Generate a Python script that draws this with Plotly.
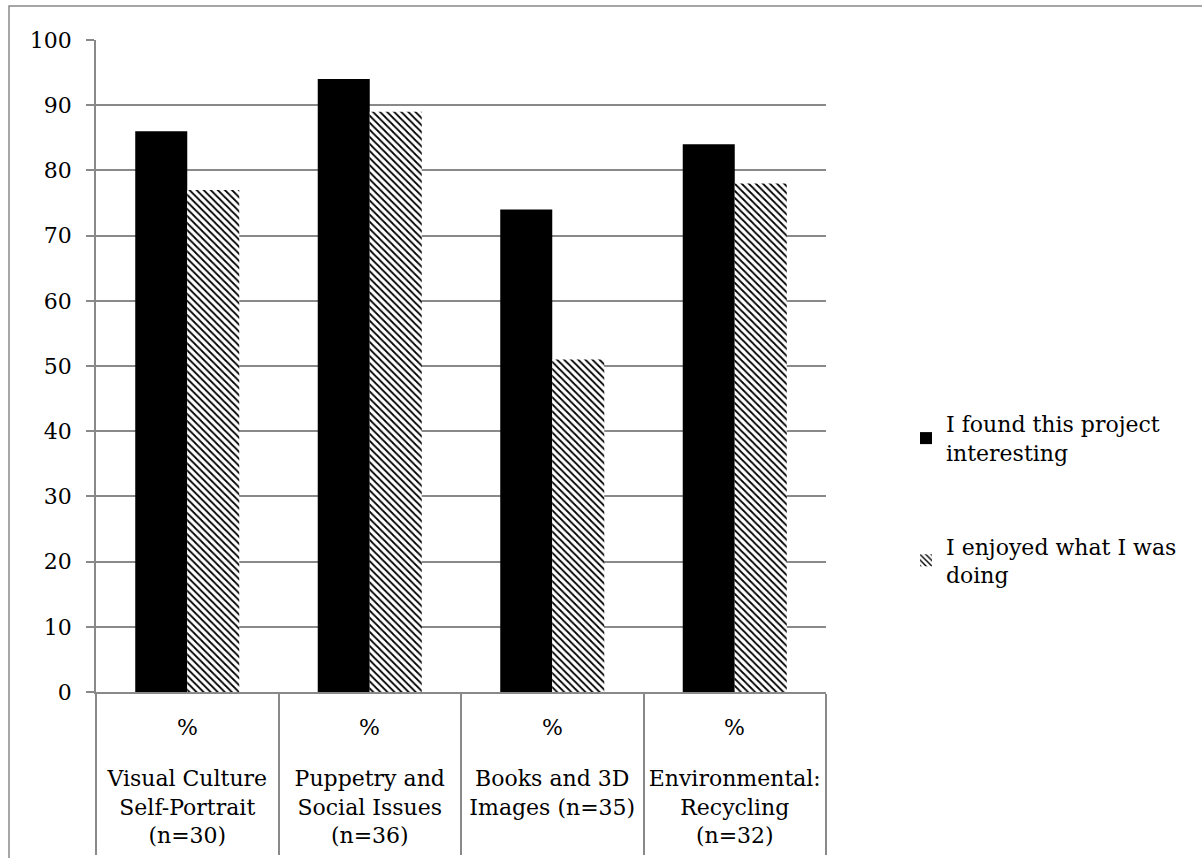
import plotly.graph_objects as go

categories = [
    "Visual Culture<br>Self-Portrait<br>(n=30)",
    "Puppetry and<br>Social Issues<br>(n=36)",
    "Books and 3D<br>Images (n=35)",
    "Environmental:<br>Recycling<br>(n=32)",
]
interesting = [86, 94, 74, 84]
enjoyed = [77, 89, 51, 78]
series_names = ["I found this project<br>interesting", "I enjoyed what I was<br>doing"]
unit_label = "%"
y_ticks = list(range(0, 101, 10))

FONT = "DejaVu Serif"
GRAY = "#898989"
W, H = 1202, 858
L, R, T, B = 96, 376, 40, 166
PW, PH = W - L - R, H - T - B

def px_x(p):
    return (p - L) / PW

def px_y(p):
    return (H - B - p) / PH

fig = go.Figure()
fig.add_trace(go.Bar(
    x=categories, y=interesting, name=series_names[0], legendgroup="a",
    marker=dict(color="black", line=dict(width=0)),
))
fig.add_trace(go.Bar(
    x=categories, y=enjoyed, name=series_names[1], legendgroup="b",
    marker=dict(color="white", line=dict(width=0),
                pattern=dict(shape="\\", fgcolor="black", bgcolor="white",
                             size=5, solidity=0.35, fillmode="replace")),
))

for c in categories:
    fig.add_annotation(x=c, xref="x", y=px_y(727), yref="paper", text=unit_label,
                       showarrow=False, font=dict(family=FONT, size=22, color="black"),
                       xanchor="center", yanchor="middle")

# outer chart border
fig.add_shape(type="rect", xref="paper", yref="paper",
              x0=px_x(9), x1=px_x(1230), y0=px_y(6), y1=px_y(900),
              line=dict(color=GRAY, width=1.5), fillcolor="rgba(0,0,0,0)", layer="below")

fig.update_layout(
    width=W, height=H, autosize=False,
    margin=dict(l=L, r=R, t=T, b=B),
    paper_bgcolor="white", plot_bgcolor="white",
    barmode="group", bargap=0.43, bargroupgap=0,
    font=dict(family=FONT, size=22, color="black"),
    showlegend=True,
    legend=dict(x=px_x(906), y=px_y(403), xanchor="left", yanchor="top",
                traceorder="grouped", tracegroupgap=62,
                font=dict(family=FONT, size=22, color="black"),
                bgcolor="rgba(0,0,0,0)", itemsizing="constant"),
    xaxis=dict(
        type="category", showgrid=False, zeroline=False, automargin=False,
        showline=True, linecolor=GRAY, linewidth=1.5,
        ticks="outside", tickson="boundaries", ticklen=161, tickcolor=GRAY, tickwidth=1.5,
        ticklabelstandoff=66,
        tickfont=dict(family=FONT, size=22, color="black"),
    ),
    yaxis=dict(
        range=[0, 100], tickvals=y_ticks, showgrid=True, gridcolor=GRAY, gridwidth=1.5,
        zeroline=False, showline=True, linecolor=GRAY, linewidth=1.5, automargin=False,
        ticks="outside", ticklen=8, tickcolor=GRAY, tickwidth=1.5,
        ticklabelstandoff=10,
        tickfont=dict(family=FONT, size=22, color="black"),
    ),
)

fig.write_html("out.html")
